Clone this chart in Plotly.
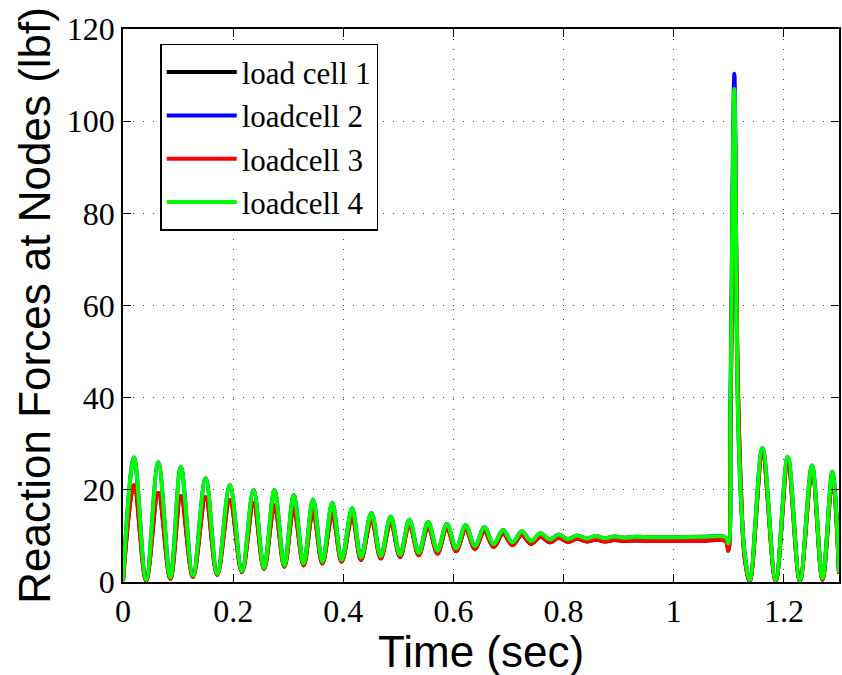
import plotly.graph_objects as go

# Key time instants (sec): alternating peaks / troughs
time_s = [0.000, 0.020, 0.042, 0.064, 0.086, 0.105, 0.127, 0.150, 0.171, 0.194,
          0.216, 0.237, 0.256, 0.275, 0.293, 0.310, 0.328, 0.345, 0.362, 0.380,
          0.397, 0.416, 0.432, 0.451, 0.468, 0.486, 0.503, 0.520, 0.537, 0.554,
          0.571, 0.588, 0.605, 0.622, 0.639, 0.656, 0.673, 0.690, 0.707, 0.724,
          0.741, 0.758, 0.775, 0.791, 0.808, 0.825, 0.842, 0.858, 0.875, 0.892,
          0.910, 0.930, 0.960, 1.000, 1.050, 1.094, 1.099, 1.103, 1.110, 1.116,
          1.122, 1.129, 1.138, 1.161, 1.185, 1.207, 1.229, 1.251, 1.270, 1.288,
          1.300]

load_cell_1 = [0.2, 21.0, 0.3, 19.3, 0.7, 18.6, 1.1, 18.4, 1.5, 17.8,
               2.1, 17.1, 2.8, 16.6, 3.3, 16.0, 3.6, 15.4, 4.0, 14.8,
               4.4, 14.2, 4.8, 13.6, 5.1, 13.0, 5.4, 12.5, 5.8, 12.1,
               6.2, 11.7, 6.7, 11.4, 7.2, 11.0, 7.6, 10.5, 8.0, 10.2,
               8.3, 9.8, 8.6, 9.6, 8.7, 9.4, 8.8, 9.2, 8.8, 9.1,
               8.9, 9.0, 8.9, 8.9, 8.9, 8.9, 6.8, 35.0, 103.0, 45.0,
               20.0, 5.0, 0.2, 27.5, 0.2, 25.5, 0.2, 24.0, 0.5, 22.5,
               1.8]

loadcell_2 = [0.3, 27.0, 0.5, 26.0, 1.0, 25.0, 1.4, 22.5, 1.8, 21.0,
              2.4, 19.9, 3.1, 19.9, 3.6, 18.8, 4.0, 17.9, 4.4, 17.2,
              4.8, 16.0, 5.3, 15.0, 5.6, 14.2, 5.9, 13.5, 6.3, 13.0,
              6.8, 12.6, 7.3, 12.3, 7.8, 11.9, 8.2, 11.3, 8.6, 11.0,
              8.9, 10.6, 9.2, 10.3, 9.3, 10.1, 9.4, 10.0, 9.5, 9.9,
              9.6, 9.8, 9.7, 9.7, 9.8, 9.7, 8.4, 40.0, 110.3, 40.0,
              18.0, 6.0, 0.4, 29.1, 0.4, 27.2, 0.4, 25.3, 0.8, 23.9,
              2.0]

loadcell_3 = [0.2, 21.0, 0.3, 19.3, 0.7, 18.6, 1.1, 18.4, 1.5, 17.8,
              2.1, 17.1, 2.8, 16.6, 3.3, 16.0, 3.6, 15.4, 4.0, 14.8,
              4.4, 14.2, 4.8, 13.6, 5.1, 13.0, 5.4, 12.5, 5.8, 12.1,
              6.2, 11.7, 6.7, 11.4, 7.2, 11.0, 7.6, 10.5, 8.0, 10.2,
              8.3, 9.8, 8.6, 9.6, 8.7, 9.4, 8.8, 9.2, 8.8, 9.1,
              8.9, 9.0, 8.9, 8.9, 8.9, 8.9, 6.8, 35.0, 100.0, 45.0,
              20.0, 5.0, 0.2, 27.5, 0.2, 25.5, 0.2, 24.0, 0.5, 22.5,
              1.8]

loadcell_4 = [0.3, 27.0, 0.5, 26.0, 1.0, 25.0, 1.4, 22.5, 1.8, 21.0,
              2.4, 19.9, 3.1, 19.9, 3.6, 18.8, 4.0, 17.9, 4.4, 17.2,
              4.8, 16.0, 5.3, 15.0, 5.6, 14.2, 5.9, 13.5, 6.3, 13.0,
              6.8, 12.6, 7.3, 12.3, 7.8, 11.9, 8.2, 11.3, 8.6, 11.0,
              8.9, 10.6, 9.2, 10.3, 9.3, 10.1, 9.4, 10.0, 9.5, 9.9,
              9.6, 9.8, 9.7, 9.7, 9.8, 9.7, 8.4, 40.0, 107.0, 40.0,
              18.0, 6.0, 0.4, 29.1, 0.4, 27.2, 0.4, 25.3, 0.8, 23.9,
              2.0]

series_names = ["load cell 1", "loadcell 2", "loadcell 3", "loadcell 4"]
series_values = [load_cell_1, loadcell_2, loadcell_3, loadcell_4]
series_colors = ["#000000", "#0000ff", "#ff0000", "#00ff00"]

x_tick_vals = [0, 0.2, 0.4, 0.6, 0.8, 1.0, 1.2]
x_tick_text = ["0", "0.2", "0.4", "0.6", "0.8", "1", "1.2"]
y_tick_vals = [0, 20, 40, 60, 80, 100, 120]

x_title = "Time (sec)"
y_title = "Reaction Forces at Nodes (lbf)"

SERIF = "Liberation Serif, Times New Roman, serif"
SANS = "Liberation Sans, Arial, sans-serif"

fig = go.Figure()
for name, vals, col in zip(series_names, series_values, series_colors):
    fig.add_trace(go.Scatter(
        x=time_s, y=vals, name=name, mode="lines",
        line=dict(color=col, width=4, shape="spline", smoothing=1.0),
    ))

axis_common = dict(
    showline=True, linecolor="black", linewidth=1.5, mirror="ticks",
    ticks="inside", ticklen=8, tickwidth=1.2, tickcolor="black",
    showgrid=True, gridcolor="#444444", gridwidth=1, griddash="1px,9px",
    zeroline=False, automargin=False,
    tickfont=dict(family=SERIF, size=32, color="black"),
)

fig.update_layout(
    width=842, height=675,
    margin=dict(l=123, r=3, t=29, b=93, autoexpand=False),
    paper_bgcolor="white", plot_bgcolor="white",
    xaxis=dict(range=[0, 1.3], tickvals=x_tick_vals, ticktext=x_tick_text,
               **axis_common),
    yaxis=dict(range=[0, 120], tickvals=y_tick_vals, **axis_common),
    legend=dict(x=0.052, y=0.973, xanchor="left", yanchor="top",
                bgcolor="white", bordercolor="black", borderwidth=1.5,
                font=dict(family=SERIF, size=31, color="black"),
                itemwidth=70, tracegroupgap=0,
                entrywidth=230, entrywidthmode="pixels"),
    showlegend=True,
    annotations=[
        dict(text=x_title, xref="paper", yref="paper", x=0.5, y=-0.125,
             xanchor="center", yanchor="middle", showarrow=False,
             font=dict(family=SANS, size=44, color="black")),
        dict(text=y_title, xref="paper", yref="paper", x=-0.124, y=0.5,
             xanchor="center", yanchor="middle", showarrow=False, textangle=-90,
             font=dict(family=SANS, size=44, color="black")),
    ],
)

fig.write_html(
    "out.html",
    config={"displayModeBar": False},
    post_script="document.body.style.margin='0px';document.body.style.overflow='hidden';",
)
